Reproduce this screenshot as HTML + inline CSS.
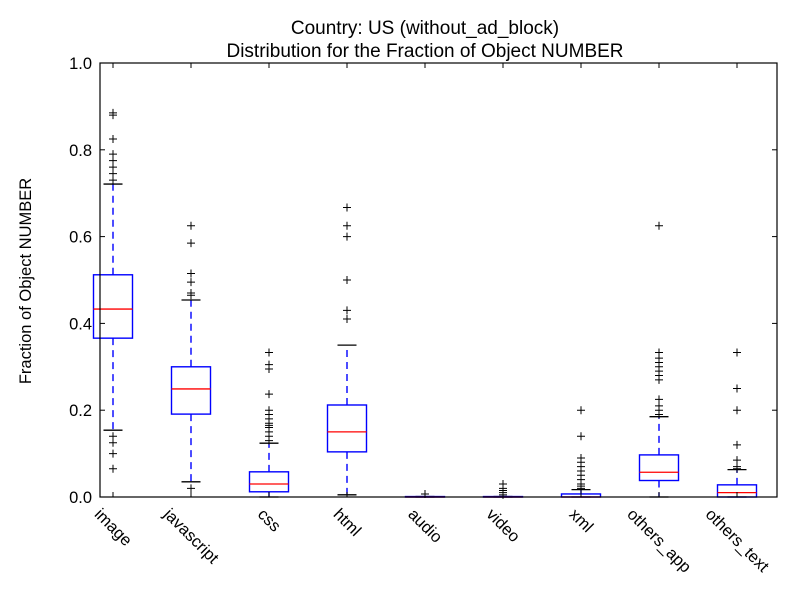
<!DOCTYPE html>
<html><head><meta charset="utf-8"><style>body{margin:0;background:#fff}svg{font-family:"Liberation Sans",sans-serif}</style></head>
<body>
<svg id="c" width="800" height="600" xmlns="http://www.w3.org/2000/svg">
<rect width="800" height="600" fill="#fff"/>
<text x="425" y="34" font-size="19" text-anchor="middle">Country: US  (without_ad_block)</text>
<text x="425" y="57" font-size="19" text-anchor="middle">Distribution for the Fraction of Object NUMBER</text>
<text transform="translate(31,281) rotate(-90)" font-size="16.5" text-anchor="middle">Fraction of Object NUMBER</text>
<g id="plot"></g>
</svg>
<script>
const categories=["image","javascript","css","html","audio","video","xml","others_app","others_text"];
const q1=[0.366,0.191,0.012,0.104,0,0,0,0.038,0];
const q3=[0.512,0.300,0.058,0.212,0.001,0.001,0.007,0.097,0.028];
const medians=[0.433,0.249,0.03,0.15,0,0,0,0.057,0.01];
const whiskerLo=[0.154,0.035,0,0.005,0,0,0,0,0];
const whiskerHi=[0.721,0.454,0.124,0.35,0.001,0.001,0.017,0.185,0.063];
const fliers=[
[0.885,0.88,0.825,0.79,0.775,0.76,0.745,0.73,0.14,0.125,0.1,0.065],
[0.625,0.585,0.515,0.495,0.47,0.465,0.02],
[0.333,0.305,0.295,0.237,0.2,0.19,0.18,0.17,0.165,0.16,0.15,0.14,0.13],
[0.667,0.625,0.6,0.5,0.5,0.43,0.41],
[0.007],
[0.03,0.02,0.015,0.01,0.005],
[0.2,0.14,0.09,0.08,0.07,0.06,0.05,0.04,0.03,0.025,0.02],
[0.625,0.333,0.32,0.31,0.3,0.29,0.28,0.27,0.225,0.21,0.2,0.19],
[0.333,0.25,0.2,0.12,0.085,0.07,0.065]];
const yTicks=[0,0.2,0.4,0.6,0.8,1.0];
const yTickLabels=["0.0","0.2","0.4","0.6","0.8","1.0"];
const L=100,R=777,T=63,B=497;
const y=v=>B-(B-T)*v;
const x=i=>113+78*i;
const NS="http://www.w3.org/2000/svg";
const g=document.getElementById('plot');
function mk(t,a){const e=document.createElementNS(NS,t);for(const k in a)e.setAttribute(k,a[k]);g.appendChild(e);return e;}
yTicks.forEach((v,i)=>{
 const t=mk('line',{x1:L,x2:L+5,y1:y(v),y2:y(v),stroke:'#000'});
 
 
 const t2=mk('line',{x1:R-5,x2:R,y1:y(v),y2:y(v),stroke:'#000'});
 
 
 const l=mk('text',{x:L-8,y:y(v)+6,'font-size':16.5,'text-anchor':'end'});l.textContent=yTickLabels[i];
 
 
});
categories.forEach((c,i)=>{
 const cx=x(i),hw=19.5;
 const wl=mk('line',{x1:cx,x2:cx,y1:y(q3[i]),y2:y(whiskerHi[i]),stroke:'#00f','stroke-width':1.4,'stroke-dasharray':'7,5'});
 
 
 const wl2=mk('line',{x1:cx,x2:cx,y1:y(q1[i]),y2:y(whiskerLo[i]),stroke:'#00f','stroke-width':1.4,'stroke-dasharray':'7,5'});
 
 
 [whiskerHi[i],whiskerLo[i]].forEach(v=>{const cap=mk('line',{x1:cx-9.5,x2:cx+9.5,y1:y(v),y2:y(v),stroke:'#000','stroke-width':1.3});
  
  });
 const b=mk('rect',{x:cx-hw,y:y(q3[i]),width:2*hw,height:Math.max(0.5,y(q1[i])-y(q3[i])),fill:'none',stroke:'#00f','stroke-width':1.4});
 
 
 const m=mk('line',{x1:cx-hw,x2:cx+hw,y1:y(medians[i]),y2:y(medians[i]),stroke:'#f00','stroke-width':1.3});
 
 
 fliers[i].forEach(v=>{const p=mk('path',{d:`M${cx-4},${y(v)}h8M${cx},${y(v)-4}v8`,stroke:'#000'});
  
  });
 const tk=mk('line',{x1:cx,x2:cx,y1:B,y2:B-5,stroke:'#000'});
 
 
 const tk2=mk('line',{x1:cx,x2:cx,y1:T,y2:T+5,stroke:'#000'});
 
 
 const lab=mk('text',{'font-size':16.5,'text-anchor':'middle','dominant-baseline':'central'});
 lab.textContent=c;
 
 
 const w=lab.getComputedTextLength();
 const cy=506+(w*0.707+16*0.707)/2;
 lab.setAttribute('transform',`translate(${cx},${cy}) rotate(45)`);
});
const f=mk('rect',{x:L,y:T,width:R-L,height:B-T,fill:'none',stroke:'#000','stroke-width':1.2});


</script>
</body></html>
